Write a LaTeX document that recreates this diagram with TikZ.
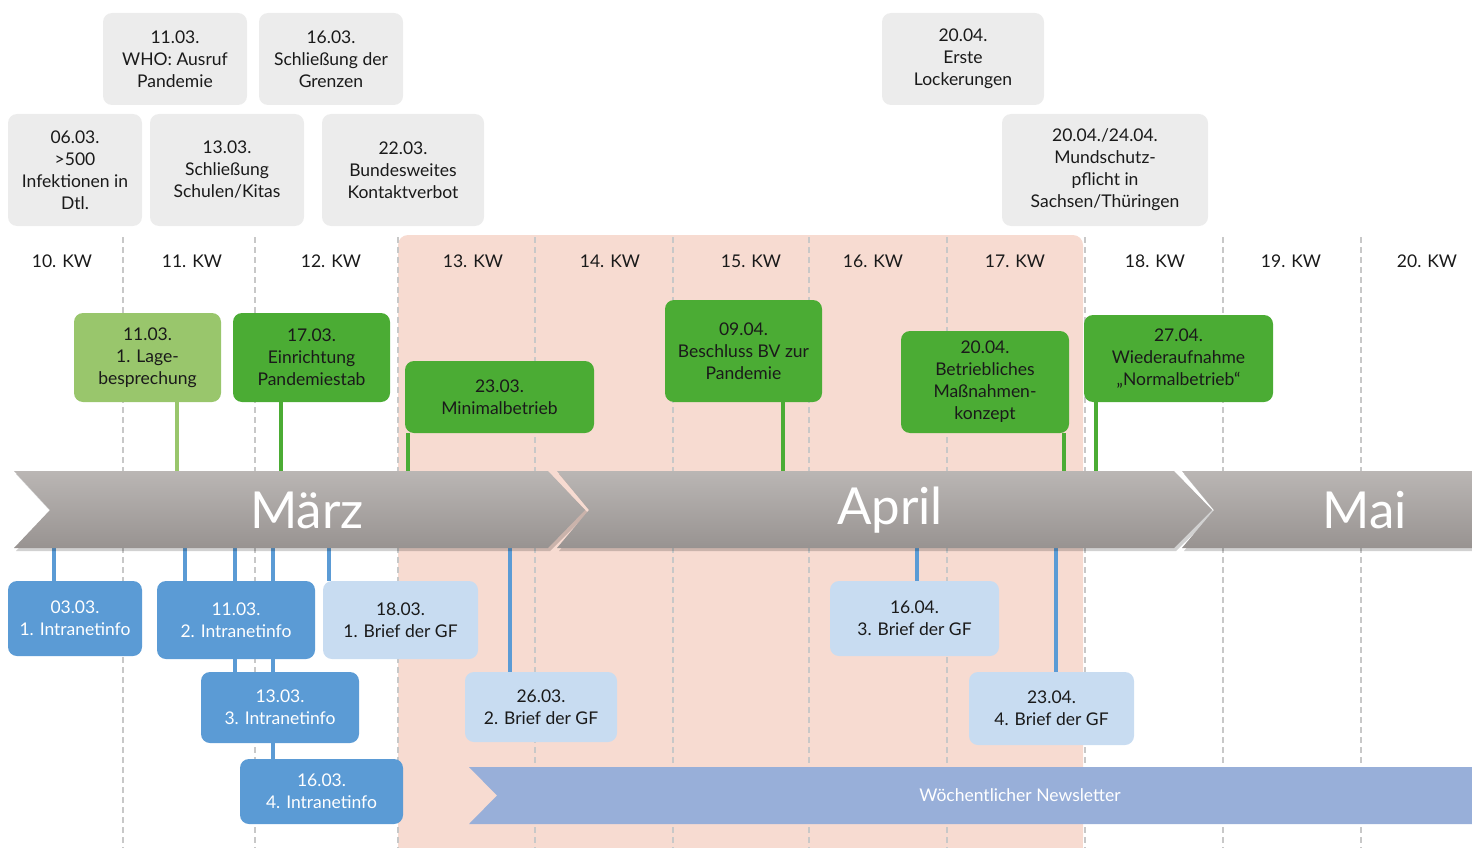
\documentclass[tikz,border=0pt]{standalone}
\usepackage{fontspec}
\setmainfont{Lato}
\usetikzlibrary{calc}
\definecolor{grayboxc}{HTML}{ECECEC}
\definecolor{pinkc}{HTML}{F7DBD1}
\definecolor{greenc}{HTML}{4BAC34}
\definecolor{lgreenc}{HTML}{99C66C}
\definecolor{bluec}{HTML}{5B9BD5}
\definecolor{lbluec}{HTML}{C8DCF1}
\definecolor{newsc}{HTML}{98AFD9}
\definecolor{dashc}{HTML}{C8C8C8}
\definecolor{tltop}{HTML}{BAB6B4}
\definecolor{tlbot}{HTML}{989391}
\definecolor{txtc}{HTML}{1A1A1A}
\pgfdeclarelayer{back}
\pgfdeclarelayer{stems}
\pgfsetlayers{back,stems,main}
\tikzset{
  box/.style={rounded corners=9pt, align=center, inner sep=0pt, font=\fontsize{17.5}{22}\selectfont, text=txtc},
  graybox/.style={box, fill=grayboxc},
  greenbox/.style={box, fill=greenc},
  lgreenbox/.style={box, fill=lgreenc},
  bluebox/.style={box, fill=bluec, text=white},
  lbluebox/.style={box, fill=lbluec},
  kwlabel/.style={font=\fontsize{17.5}{22}\selectfont, text=txtc, inner sep=0pt},
  sepline/.style={dashc, line width=1.3pt, dash pattern=on 6pt off 4pt},
  gstem/.style={greenc, line width=4pt},
  lgstem/.style={lgreenc, line width=4pt},
  bstem/.style={bluec, line width=4pt},
  monthtxt/.style={font=\fontsize{51}{58}\selectfont, text=white, inner sep=0pt},
  tlshape/.style={top color=tltop, bottom color=tlbot, draw=none},
  tlshadow/.style={fill=black, opacity=0.18, draw=none},
}
\begin{document}
\begin{tikzpicture}[x=1pt,y=-1pt]
\useasboundingbox (0,0) rectangle (1472,848);

% background layer: pink area and week separators
\begin{pgfonlayer}{back}
\fill[pinkc, rounded corners=10pt] (398,848) -- (398,235) -- (1083,235) -- (1083,848) -- cycle;
\fill[pinkc] (398,800) rectangle (1083,848);
\foreach \xx in {123,255,398,535,673,809,947,1085,1223,1361}
  \draw[sepline] (\xx,237) -- (\xx,848);
\end{pgfonlayer}

% week labels
\node[kwlabel] (kw10) at (62,261) {10. KW};
\node[kwlabel] (kw11) at (192,261) {11. KW};
\node[kwlabel] (kw12) at (331,261) {12. KW};
\node[kwlabel] (kw13) at (473,261) {13. KW};
\node[kwlabel] (kw14) at (610,261) {14. KW};
\node[kwlabel] (kw15) at (751,261) {15. KW};
\node[kwlabel] (kw16) at (873,261) {16. KW};
\node[kwlabel] (kw17) at (1015,261) {17. KW};
\node[kwlabel] (kw18) at (1155,261) {18. KW};
\node[kwlabel] (kw19) at (1291,261) {19. KW};
\node[kwlabel] (kw20) at (1427,261) {20. KW};

% gray event boxes (top)
\node[graybox, minimum width=144pt, minimum height=92pt] (who) at (175,59) {11.03.\\WHO: Ausruf\\Pandemie};
\node[graybox, minimum width=144pt, minimum height=92pt] (grenz) at (331,59) {16.03.\\Schließung der\\Grenzen};
\node[graybox, minimum width=134pt, minimum height=112pt] (inf) at (75,170) {06.03.\\>500\\Infektionen in\\Dtl.};
\node[graybox, minimum width=154pt, minimum height=112pt] (schul) at (227,170) {13.03.\\Schließung\\Schulen/Kitas};
\node[graybox, minimum width=162pt, minimum height=112pt] (kontakt) at (403,170) {22.03.\\Bundesweites\\Kontaktverbot};
\node[graybox, minimum width=162pt, minimum height=92pt] (locker) at (963,59) {20.04.\\Erste\\Lockerungen};
\node[graybox, minimum width=206pt, minimum height=112pt] (mund) at (1105,170) {20.04./24.04.\\Mundschutz-\\pflicht in\\Sachsen/Thüringen};

% green boxes
\node[lgreenbox, minimum width=147pt, minimum height=89pt] (lage) at (147.5,357.5) {11.03.\\1. Lage-\\besprechung};
\node[greenbox, minimum width=157pt, minimum height=89pt] (stab) at (311.5,357.5) {17.03.\\Einrichtung\\Pandemiestab};
\node[greenbox, minimum width=189pt, minimum height=72pt] (minb) at (499.5,397) {23.03.\\Minimalbetrieb};
\node[greenbox, minimum width=157pt, minimum height=102pt] (bv) at (743.5,351) {09.04.\\Beschluss BV zur\\Pandemie};
\node[greenbox, minimum width=168pt, minimum height=102pt] (konz) at (985,382) {20.04.\\Betriebliches\\Maßnahmen-\\konzept};
\node[greenbox, minimum width=189pt, minimum height=87pt] (normal) at (1178.5,358.5) {27.04.\\Wiederaufnahme\\„Normalbetrieb“};

% timeline anchor coordinates
\coordinate (tlage) at (177,471);
\coordinate (tstab) at (281,471);
\coordinate (tminb) at (408,471);
\coordinate (tbv) at (783,471);
\coordinate (tkonz) at (1064,471);
\coordinate (tnormal) at (1096,471);
\coordinate (b1) at (54,548);
\coordinate (b2) at (185,548);
\coordinate (b3) at (235,548);
\coordinate (b4) at (273,548);
\coordinate (g1) at (329,548);
\coordinate (g2) at (510,548);
\coordinate (g3) at (917,548);
\coordinate (g4) at (1056,548);

% blue boxes (bottom)
\node[bluebox, minimum width=134pt, minimum height=75pt] (ii1) at (75,618.5) {03.03.\\1. Intranetinfo};
\node[bluebox, minimum width=158pt, minimum height=78pt] (ii2) at (236,620) {11.03.\\2. Intranetinfo};
\node[bluebox, minimum width=158pt, minimum height=71pt] (ii3) at (280,707.5) {13.03.\\3. Intranetinfo};
\node[bluebox, minimum width=163pt, minimum height=65pt] (ii4) at (321.5,791.5) {16.03.\\4. Intranetinfo};
\node[lbluebox, minimum width=155pt, minimum height=78pt] (gf1) at (400.5,620) {18.03.\\1. Brief der GF};
\node[lbluebox, minimum width=152pt, minimum height=70pt] (gf2) at (541,707) {26.03.\\2. Brief der GF};
\node[lbluebox, minimum width=169pt, minimum height=75pt] (gf3) at (914.5,618.5) {16.04.\\3. Brief der GF};
\node[lbluebox, minimum width=165pt, minimum height=73pt] (gf4) at (1051.5,708.5) {23.04.\\4. Brief der GF};

% stems
\begin{pgfonlayer}{stems}
\draw[lgstem] (lage.south -| tlage) -- (tlage);
\draw[gstem] (stab.south -| tstab) -- (tstab);
\draw[gstem] (minb.south -| tminb) -- (tminb);
\draw[gstem] (bv.south -| tbv) -- (tbv);
\draw[gstem] (konz.south -| tkonz) -- (tkonz);
\draw[gstem] (normal.south -| tnormal) -- (tnormal);
\draw[bstem] (b1) -- (ii1.north -| b1);
\draw[bstem] (b2) -- (ii2.north -| b2);
\draw[bstem] (b3) -- (ii3.north -| b3);
\draw[bstem] (b4) -- (ii4.north -| b4);
\draw[bstem] (g1) -- (gf1.north -| g1);
\draw[bstem] (g2) -- (gf2.north -| g2);
\draw[bstem] (g3) -- (gf3.north -| g3);
\draw[bstem] (g4) -- (gf4.north -| g4);
\end{pgfonlayer}

% timeline chevrons
\fill[tlshadow] (16,474) -- (550,474) -- (588,513) -- (550,551) -- (16,551) -- (52,513) -- cycle;
\path[tlshape] (14,471) -- (548,471) -- (585,510) -- (548,548) -- (14,548) -- (50,510) -- cycle;
\fill[tlshadow] (559,474) -- (1176,474) -- (1215,513) -- (1176,551) -- (559,551) -- (592,513) -- cycle;
\path[tlshape] (557,471) -- (1174,471) -- (1212,510) -- (1174,548) -- (557,548) -- (589,510) -- cycle;
\fill[tlshadow] (1184,474) -- (1472,474) -- (1472,551) -- (1184,551) -- (1216,513) -- cycle;
\path[tlshape] (1182,471) -- (1472,471) -- (1472,548) -- (1182,548) -- (1214,510) -- cycle;
\node[monthtxt] (maerz) at (307,510) {März};
\node[monthtxt] (april) at (890,510) {April};
\node[monthtxt] (mai) at (1365,510) {Mai};

% newsletter band
\fill[newsc] (469,767) -- (1472,767) -- (1472,824) -- (469,824) -- (497,795.5) -- cycle;
\node[font=\fontsize{17.5}{22}\selectfont, text=white, inner sep=0pt] (news) at (1020,795) {Wöchentlicher Newsletter};
\end{tikzpicture}
\end{document}
